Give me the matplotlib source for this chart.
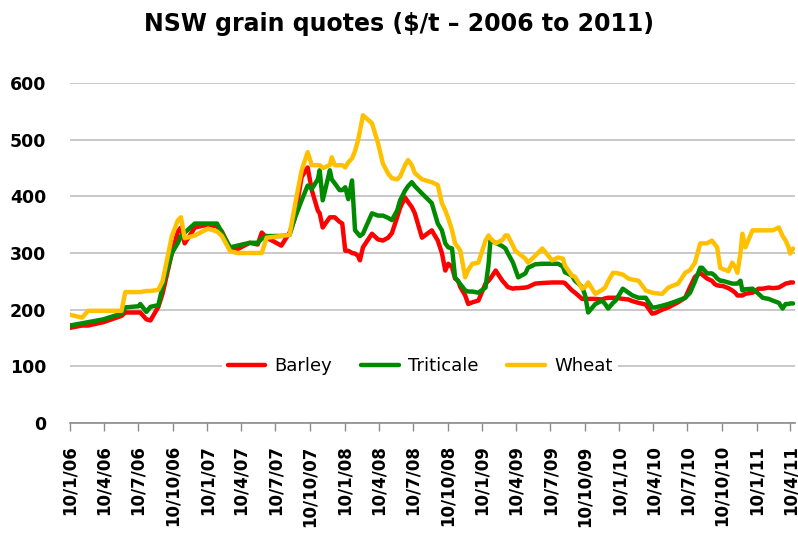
import numpy as np
import pandas as pd
import matplotlib
matplotlib.use("Agg")
import matplotlib.pyplot as plt

# weekly-ish quotes ($/t)
dates = [
    "2006-01-10", "2006-02-11", "2006-02-27", "2006-04-09", "2006-05-27", "2006-06-06", "2006-07-11",
    "2006-07-16", "2006-08-01", "2006-08-12", "2006-09-02", "2006-09-13", "2006-10-08", "2006-10-24",
    "2006-11-01", "2006-11-11", "2006-12-08",
    "2007-01-12", "2007-02-05", "2007-02-18", "2007-03-12", "2007-04-01", "2007-05-03", "2007-05-24",
    "2007-06-04", "2007-06-17", "2007-07-26", "2007-08-17", "2007-08-30", "2007-09-18", "2007-10-04",
    "2007-10-15", "2007-10-31", "2007-11-05", "2007-11-13", "2007-12-02", "2007-12-07", "2007-12-15",
    "2007-12-28",
    "2008-01-04", "2008-01-12", "2008-01-20", "2008-01-30", "2008-02-07", "2008-02-15", "2008-02-20",
    "2008-02-28", "2008-03-23", "2008-04-08", "2008-04-21", "2008-05-05", "2008-05-15", "2008-05-29",
    "2008-06-06", "2008-06-19", "2008-06-27", "2008-07-07", "2008-07-15", "2008-08-03", "2008-08-29",
    "2008-09-14", "2008-09-25", "2008-10-04", "2008-10-12", "2008-10-22", "2008-10-30", "2008-11-07",
    "2008-11-13", "2008-11-26", "2008-12-04", "2008-12-15", "2008-12-31",
    "2009-01-19", "2009-01-27", "2009-02-01", "2009-02-15", "2009-03-05", "2009-03-13", "2009-03-19",
    "2009-04-02", "2009-04-08", "2009-04-16", "2009-05-05", "2009-05-12", "2009-05-31", "2009-06-19",
    "2009-07-15", "2009-07-31", "2009-08-13", "2009-08-18", "2009-09-06", "2009-09-14", "2009-10-03",
    "2009-10-11", "2009-10-19", "2009-11-07", "2009-11-25", "2009-12-03", "2009-12-11", "2009-12-24",
    "2009-12-31",
    "2010-01-19", "2010-02-03", "2010-02-14", "2010-03-02", "2010-03-21", "2010-04-07", "2010-04-15",
    "2010-05-04", "2010-05-20", "2010-06-15", "2010-07-04", "2010-07-17", "2010-07-30", "2010-08-13",
    "2010-08-18", "2010-08-31", "2010-09-13", "2010-09-21", "2010-09-27", "2010-10-05", "2010-10-11",
    "2010-10-27", "2010-11-06", "2010-11-14", "2010-11-20", "2010-11-28", "2010-12-03", "2010-12-11",
    "2010-12-30",
    "2011-01-15", "2011-01-26", "2011-02-11", "2011-02-22", "2011-03-10", "2011-03-20", "2011-03-28",
    "2011-04-05", "2011-04-09", "2011-04-17",
]

barley = [
    168, 172, 172, 178, 189, 195, 195, 195, 183, 181, 205, 228, 300, 338, 345, 317, 345,
    350, 347, 338, 306, 307, 318, 315, 336, 327, 313, 336, 360, 434, 451, 411, 375, 370, 345, 363, 363, 363, 355,
    352, 304, 304, 300, 299, 295, 287, 310, 334, 324, 322, 327, 335, 363, 380, 398, 390, 381, 370, 327, 340,
    322, 300, 269, 281, 275, 255, 251, 240, 225, 210, 213, 216,
    246, 251, 255, 269, 251, 245, 240, 237, 238, 238, 239, 240, 246, 247, 248, 248, 248, 247, 234, 230, 219,
    219, 219, 219, 218, 220, 221, 221, 221,
    219, 218, 215, 212, 209, 193, 194, 200, 204, 213, 221, 240, 258, 265, 262, 255, 251, 245, 243, 242, 242,
    238, 234, 230, 225, 225, 225, 228, 230,
    237, 237, 239, 238, 239, 243, 246, 247, 248, 248,
]

triticale = [
    172, 176, 178, 183, 193, 204, 206, 210, 196, 205, 208, 240, 300, 318, 330, 336, 352,
    352, 352, 336, 310, 313, 318, 318, 325, 330, 330, 332, 360, 393, 419, 413, 430, 446, 393, 446, 430, 423, 411,
    411, 416, 395, 428, 340, 334, 330, 334, 370, 366, 366, 362, 358, 375, 393, 410, 418, 425, 418, 405, 388,
    352, 340, 317, 310, 308, 257, 250, 245, 234, 232, 232, 230,
    239, 280, 322, 318, 312, 308, 300, 283, 272, 257, 264, 274, 280, 281, 281, 281, 276, 266, 260, 251, 240,
    225, 195, 210, 216, 210, 202, 212, 216,
    237, 230, 225, 221, 221, 204, 204, 207, 210, 216, 221, 230, 250, 274, 274, 264, 264, 260, 255, 251, 251,
    248, 246, 246, 246, 251, 234, 236, 237,
    228, 221, 219, 216, 212, 202, 210, 210, 211, 211,
]

wheat = [
    191, 186, 198, 198, 198, 231, 231, 231, 233, 233, 235, 250, 330, 358, 363, 326, 331,
    343, 338, 330, 303, 300, 300, 300, 300, 327, 330, 332, 380, 446, 478, 455, 455, 455, 450, 455, 469, 455, 455,
    455, 451, 460, 467, 480, 499, 515, 543, 529, 494, 458, 440, 432, 430, 435, 455, 464, 455, 441, 430, 425,
    420, 388, 375, 361, 340, 317, 310, 304, 257, 270, 281, 283,
    322, 331, 326, 317, 323, 331, 331, 313, 304, 300, 290, 283, 295, 308, 287, 292, 290, 278, 260, 258, 237,
    240, 248, 228, 235, 239, 250, 265, 265,
    262, 255, 253, 251, 234, 230, 229, 228, 239, 246, 265, 270, 283, 317, 317, 317, 322, 315, 310, 274, 272,
    268, 283, 275, 265, 300, 334, 310, 340,
    340, 340, 340, 340, 345, 330, 322, 310, 299, 308,
]

series_names = ["Barley", "Triticale", "Wheat"]
series_colors = ["#ff0000", "#008a00", "#ffc000"]

tick_labels = [
    "10/1/06", "10/4/06", "10/7/06", "10/10/06", "10/1/07", "10/4/07", "10/7/07", "10/10/07",
    "10/1/08", "10/4/08", "10/7/08", "10/10/08", "10/1/09", "10/4/09", "10/7/09", "10/10/09",
    "10/1/10", "10/4/10", "10/7/10", "10/10/10", "10/1/11", "10/4/11",
]
tick_dates = pd.to_datetime(tick_labels, format="%d/%m/%y")

x = pd.to_datetime(dates)
assert len(x) == len(barley) == len(triticale) == len(wheat)

fig = plt.figure(figsize=(7.98, 5.36), dpi=100)
ax = fig.add_axes([70 / 798, 113 / 536, 725 / 798, 340 / 536])

for vals, name, col in zip([barley, triticale, wheat], series_names, series_colors):
    ax.plot(x, vals, color=col, lw=3.2, label=name, solid_joinstyle="round", solid_capstyle="round")

ax.set_xlim(pd.Timestamp("2006-01-10"), pd.Timestamp("2011-04-22"))
ax.set_ylim(0, 600)
ax.set_yticks(np.arange(0, 601, 100))
ax.yaxis.grid(True, color="#c0c0c0", lw=1.2)
ax.set_axisbelow(True)

ax.set_xticks(tick_dates)
ax.set_xticklabels(tick_labels, rotation=90, fontsize=12, fontweight="bold")
ax.tick_params(axis="x", length=6, width=1, color="#8c8c8c", pad=10, direction="out")
ax.tick_params(axis="y", length=0, pad=17, labelsize=12.5)
for lab in ax.get_yticklabels():
    lab.set_fontweight("bold")

for side in ["top", "right", "left"]:
    ax.spines[side].set_visible(False)
ax.spines["bottom"].set_color("#8c8c8c")
ax.spines["bottom"].set_linewidth(1.2)

leg = ax.legend(loc="center", bbox_to_anchor=(0.483, 1 / 6), ncol=3, frameon=True,
                fontsize=13, handlelength=2.1, handletextpad=0.5, columnspacing=1.6,
                borderpad=0.3, fancybox=False)
leg.get_frame().set_facecolor("white")
leg.get_frame().set_edgecolor("none")
leg.get_frame().set_alpha(1)

fig.text(0.5, 1 - 24 / 536, "NSW grain quotes ($/t \u2013 2006 to 2011)", ha="center", va="center",
         fontsize=17, fontweight="bold")

fig.savefig("out.png", dpi=100)
